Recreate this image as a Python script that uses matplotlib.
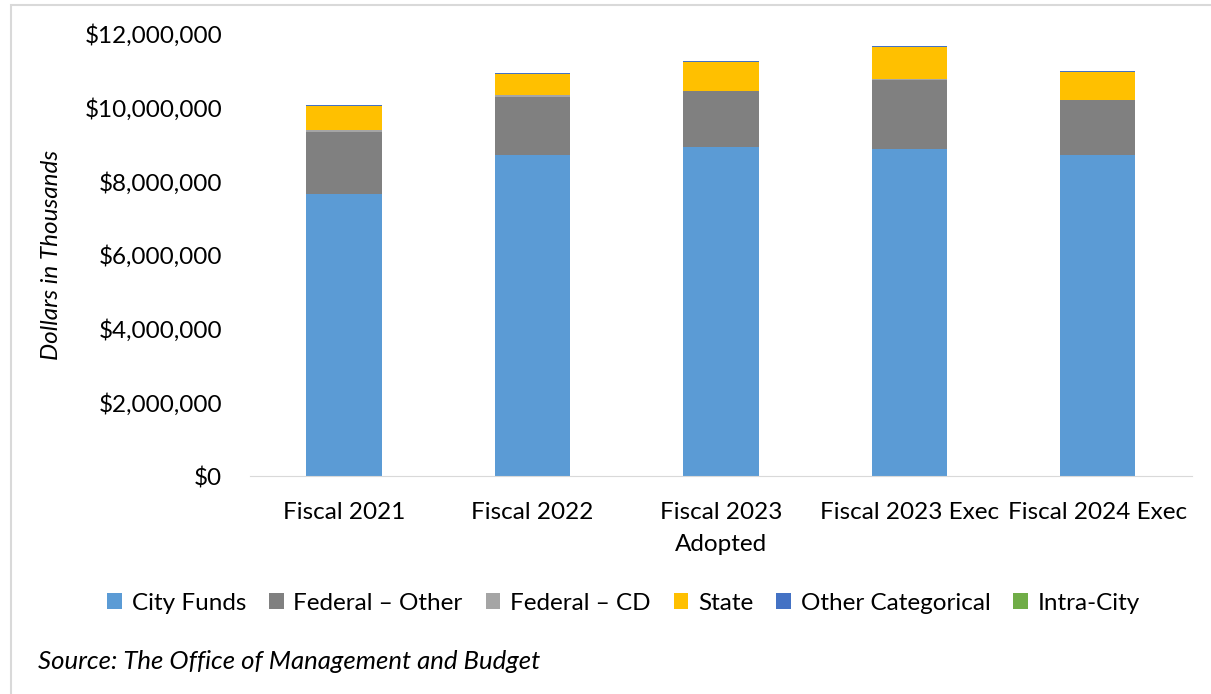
import matplotlib
matplotlib.use("Agg")
import matplotlib.pyplot as plt
from matplotlib.ticker import FuncFormatter
from matplotlib.patches import Rectangle
import numpy as np

plt.rcParams["font.family"] = ["Lato", "DejaVu Sans"]

categories = ["Fiscal 2021", "Fiscal 2022", "Fiscal 2023\nAdopted",
              "Fiscal 2023 Exec", "Fiscal 2024 Exec"]

# values in thousands of dollars
city_funds = [7657000, 8715000, 8930000, 8870000, 8710000]
federal_other = [1690000, 1580000, 1520000, 1890000, 1500000]
federal_cd = [46000, 54000, 12000, 8000, 6000]
state = [660000, 570000, 780000, 880000, 760000]
other_categorical = [15000, 20000, 15000, 35000, 25000]
intra_city = [4000, 4000, 4000, 4000, 4000]

series = [
    ("City Funds", city_funds, "#5B9BD5"),
    ("Federal \u2013 Other", federal_other, "#808080"),
    ("Federal \u2013 CD", federal_cd, "#A5A5A5"),
    ("State", state, "#FFC000"),
    ("Other Categorical", other_categorical, "#4472C4"),
    ("Intra-City", intra_city, "#70AD47"),
]

fig = plt.figure(figsize=(12.11, 6.94), dpi=100)
ax = fig.add_axes([0.2064, 0.3141, 0.7779, 0.6369])

x = np.arange(len(categories))
bottom = np.zeros(len(categories))
for name, vals, color in series:
    ax.bar(x, vals, 0.4, bottom=bottom, color=color, label=name)
    bottom += np.array(vals)

ax.set_xlim(-0.5, len(categories) - 0.5)
ax.set_ylim(0, 12000000)
ax.set_yticks(np.arange(0, 12000001, 2000000))
ax.yaxis.set_major_formatter(FuncFormatter(lambda v, p: f"${v:,.0f}"))
ax.set_xticks(x)
ax.set_xticklabels(categories, fontsize=17.5, linespacing=1.6)
ax.tick_params(axis="y", labelsize=17.5, length=0, pad=20)
ax.tick_params(axis="x", length=0, pad=19)

for s in ["top", "right", "left"]:
    ax.spines[s].set_visible(False)
ax.spines["bottom"].set_color("#D9D9D9")

ax.set_ylabel("Dollars in Thousands", fontsize=17.5, style="italic", labelpad=16)

fig.legend(loc="center", bbox_to_anchor=(0.515, 0.131), ncol=6, frameon=False,
           fontsize=17.5, handlelength=0.6, handleheight=0.6, handletextpad=0.4,
           columnspacing=0.95)

fig.text(0.031, 0.047, "Source: The Office of Management and Budget",
         fontsize=18.5, style="italic", va="center")

# light frame around the chart area
fig.add_artist(Rectangle((0.009, -0.1), 1.2, 1.093, transform=fig.transFigure,
                         fill=False, edgecolor="#D9D9D9", lw=1.5))

fig.savefig("out.png", dpi=100)
